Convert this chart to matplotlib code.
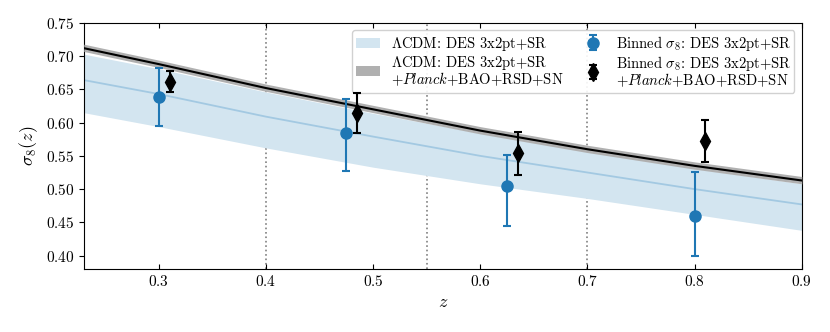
import numpy as np
import matplotlib
matplotlib.use('Agg')
import matplotlib.pyplot as plt

plt.rcParams['font.family'] = 'serif'
plt.rcParams['font.serif'] = ['cmr10']
plt.rcParams['mathtext.fontset'] = 'cm'
plt.rcParams['axes.formatter.use_mathtext'] = True
plt.rcParams['font.size'] = 11

# Model curves
z_grid = [0.23, 0.30, 0.40, 0.50, 0.60, 0.70, 0.80, 0.90]
des_mid = [0.664, 0.643, 0.609, 0.579, 0.550, 0.525, 0.500, 0.477]
des_hi = [0.703, 0.681, 0.646, 0.614, 0.584, 0.556, 0.531, 0.508]
des_lo = [0.615, 0.594, 0.562, 0.533, 0.508, 0.486, 0.462, 0.438]
all_mid = [0.712, 0.688, 0.652, 0.620, 0.588, 0.560, 0.535, 0.513]
all_hi = [0.718, 0.694, 0.658, 0.626, 0.594, 0.566, 0.541, 0.519]
all_lo = [0.707, 0.683, 0.647, 0.615, 0.583, 0.555, 0.530, 0.508]

# Binned sigma_8 measurements
z_des = [0.300, 0.475, 0.625, 0.800]
s8_des = [0.638, 0.584, 0.504, 0.460]
s8_des_up = [0.044, 0.051, 0.048, 0.066]
s8_des_dn = [0.043, 0.056, 0.059, 0.061]

z_all = [0.310, 0.485, 0.635, 0.810]
s8_all = [0.661, 0.615, 0.554, 0.572]
s8_all_up = [0.017, 0.029, 0.032, 0.032]
s8_all_dn = [0.015, 0.030, 0.033, 0.031]

bin_edges = [0.4, 0.55, 0.7]

fig = plt.figure(figsize=(8.3, 3.32), dpi=100)
ax = fig.add_axes([0.101, 0.19, 0.865, 0.741])

for e in bin_edges:
    ax.axvline(e, color='gray', ls=':', lw=1.2, zorder=0)

b1 = ax.fill_between(z_grid, des_lo, des_hi, color='#d3e5f0', lw=0, zorder=1,
                     label=r'$\Lambda$CDM: DES 3x2pt+SR')
ax.plot(z_grid, des_mid, color='#a3c9e2', lw=1.3, zorder=2)
b2 = ax.fill_between(z_grid, all_lo, all_hi, color='#b0b0b0', lw=0, zorder=3,
                     label=r'$\Lambda$CDM: DES 3x2pt+SR' + '\n' + r'$+Planck$+BAO+RSD+SN')
ax.plot(z_grid, all_mid, color='black', lw=1.5, zorder=4)

e1 = ax.errorbar(z_des, s8_des, yerr=[s8_des_dn, s8_des_up], fmt='o', color='#1f77b4',
                 ms=8, capsize=3, elinewidth=1.5, capthick=1.5, zorder=5,
                 label=r'Binned $\sigma_8$: DES 3x2pt+SR')
e2 = ax.errorbar(z_all, s8_all, yerr=[s8_all_dn, s8_all_up], fmt='d', color='black',
                 ms=9, capsize=3, elinewidth=1.5, capthick=1.5, zorder=6,
                 label=r'Binned $\sigma_8$: DES 3x2pt+SR' + '\n' + r'$+Planck$+BAO+RSD+SN')

ax.set_xlim(0.23, 0.9)
ax.set_ylim(0.38, 0.75)
ax.set_xticks([0.3, 0.4, 0.5, 0.6, 0.7, 0.8, 0.9])
ax.set_yticks(np.arange(0.40, 0.751, 0.05))
ax.tick_params(axis='x', direction='in', top=True)
ax.tick_params(axis='y', direction='out')
ax.set_xlabel(r'$z$', fontsize=13)
ax.set_ylabel(r'$\sigma_8(z)$', fontsize=13)

leg = ax.legend(handles=[b1, b2, e1, e2], ncol=2, loc='upper right', fontsize=10.5,
                handlelength=1.7, handletextpad=0.7, columnspacing=1.2,
                labelspacing=0.1, borderpad=0.25, borderaxespad=0.5, framealpha=0.9)
for t in leg.get_texts():
    t.set_linespacing(0.85)

fig.savefig('out.png', dpi=100)
